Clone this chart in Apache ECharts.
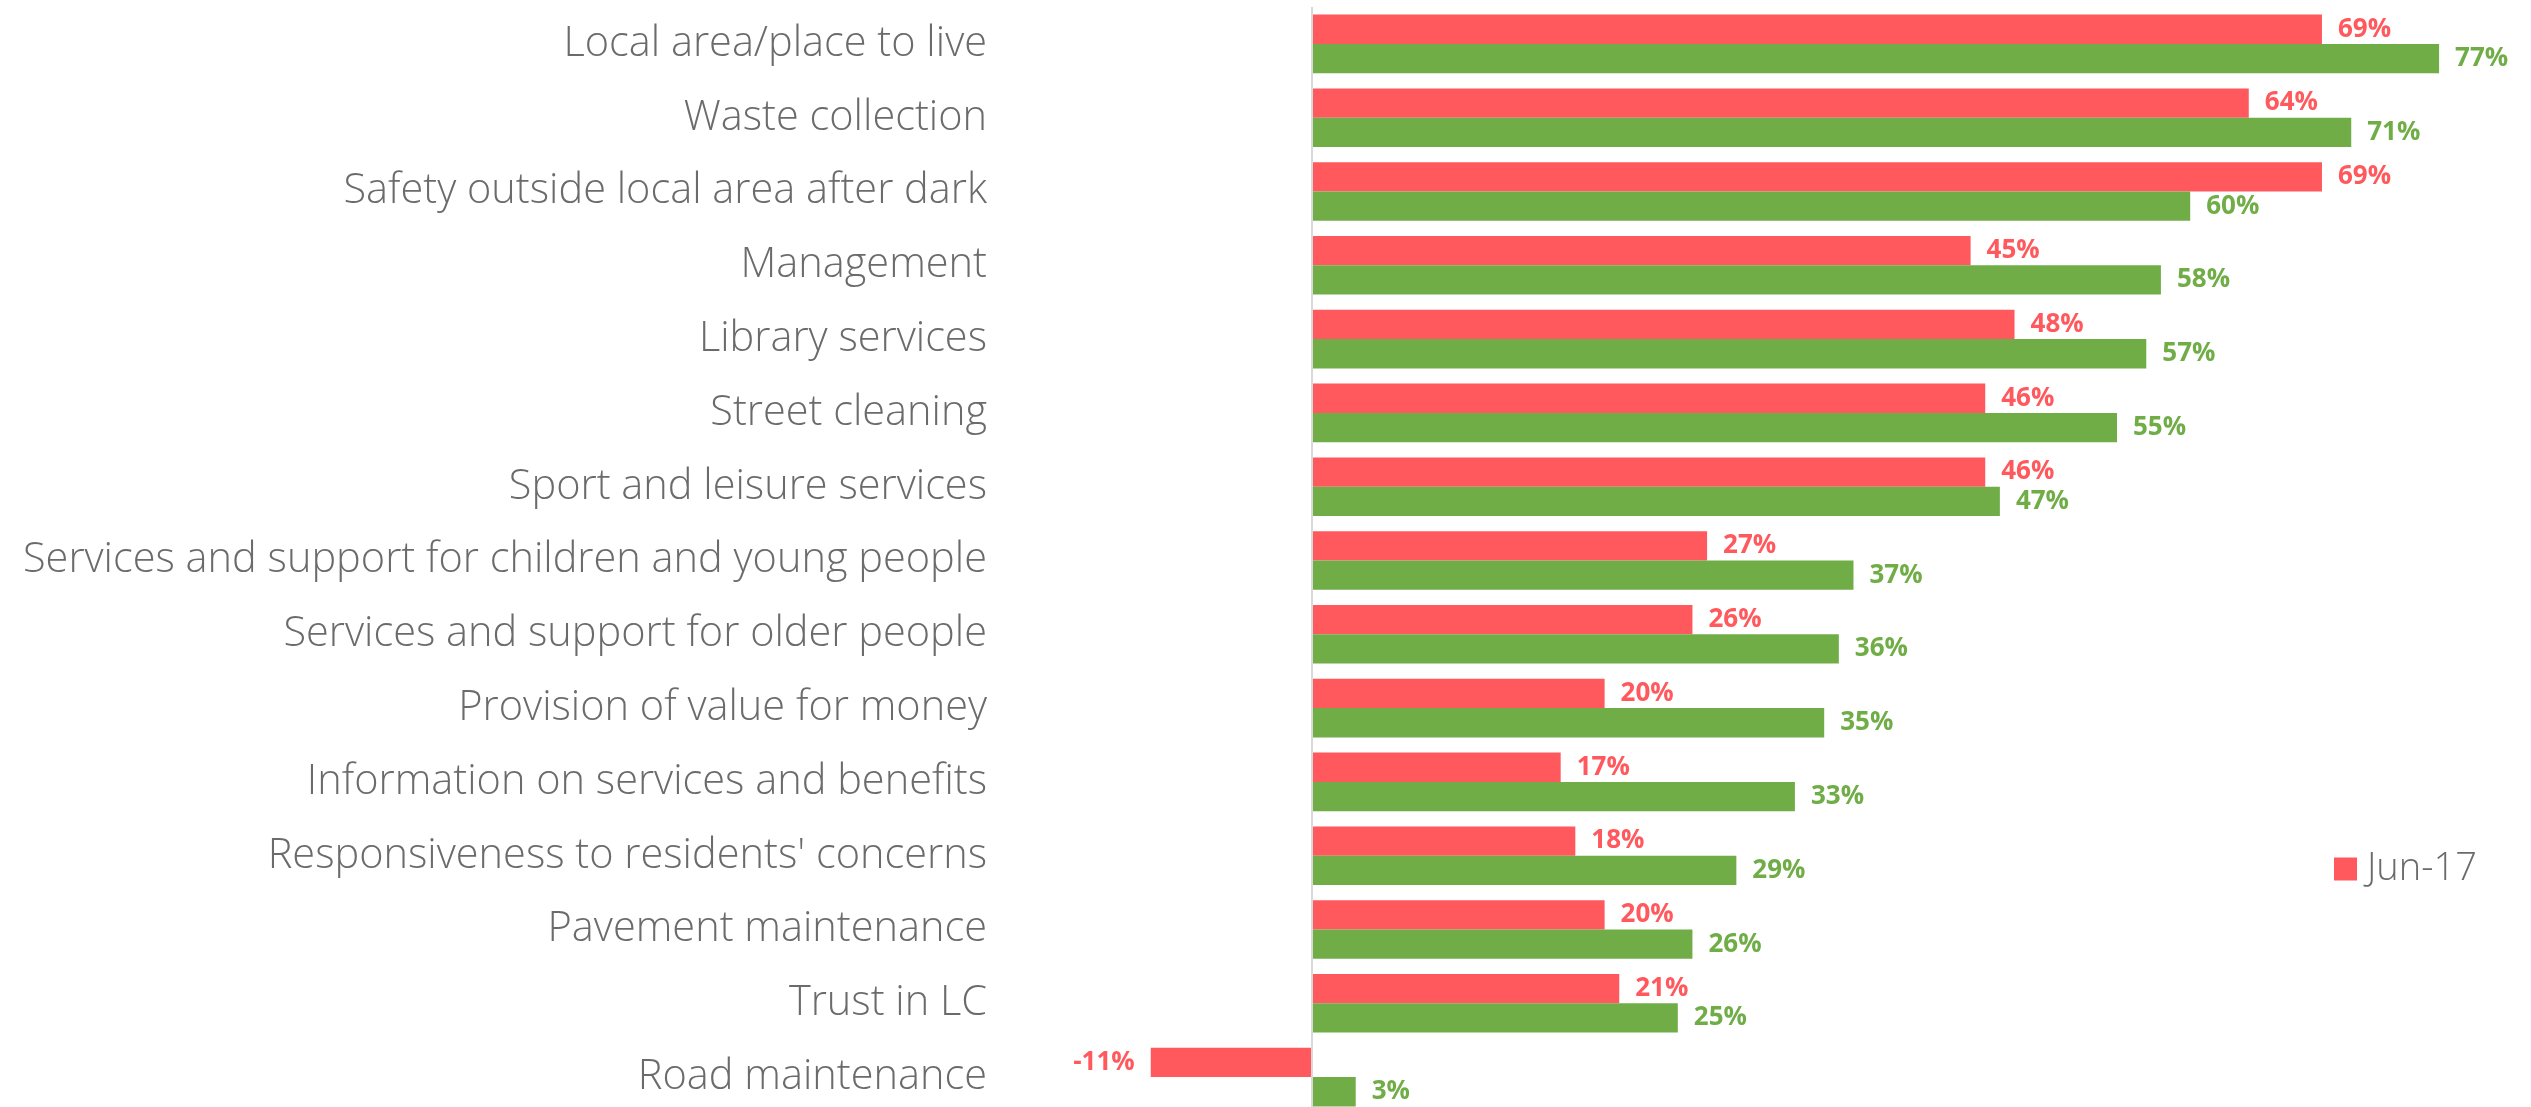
<!DOCTYPE html>
<html>
<head>
<meta charset="utf-8">
<script src="https://cdn.jsdelivr.net/npm/echarts@6/dist/echarts.min.js"></script>
<style>
html,body{margin:0;padding:0;background:#fff;overflow:hidden;width:2531px;height:1107px;}
#chart{width:2531px;height:1114px;}
</style>
</head>
<body>
<div id="chart"></div>
<script>
const categories = [
  "Local area/place to live",
  "Waste collection",
  "Safety outside local area after dark",
  "Management",
  "Library services",
  "Street cleaning",
  "Sport and leisure services",
  "Services and support for children and young people",
  "Services and support for older people",
  "Provision of value for money",
  "Information on services and benefits",
  "Responsiveness to residents' concerns",
  "Pavement maintenance",
  "Trust in LC",
  "Road maintenance"
];
const jun17 = [69, 64, 69, 45, 48, 46, 46, 27, 26, 20, 17, 18, 20, 21, -11];
const second = [77, 71, 60, 58, 57, 55, 47, 37, 36, 35, 33, 29, 26, 25, 3];
const seriesNames = ["Jun-17", "Series 2"];

const RED = "#FF585D";
const GREEN = "#70AD47";
const GREY = "#6b6b6b";
const FONT = "'Open Sans', 'Noto Sans', sans-serif";

function toData(arr) {
  return arr.map(v => ({
    value: v,
    label: { position: v < 0 ? "left" : "right" }
  }));
}

const chart = echarts.init(document.getElementById("chart"), null, { renderer: "canvas" });
chart.setOption({
  animation: false,
  backgroundColor: "#ffffff",
  grid: { left: 1019, width: 1464, top: 7, bottom: 0, containLabel: false },
  legend: {
    data: [seriesNames[0]],
    left: 2334,
    top: 850,
    padding: 0,
    itemWidth: 23,
    itemHeight: 23,
    icon: "rect",
    textStyle: { color: GREY, fontFamily: FONT, fontSize: 38, fontWeight: 300, padding: [0, 0, 0, 5] }
  },
  xAxis: {
    type: "value",
    min: -20,
    max: 80,
    interval: 10,
    axisLabel: { show: false },
    axisLine: { show: false },
    axisTick: { show: false },
    splitLine: { show: false }
  },
  yAxis: {
    type: "category",
    data: categories,
    inverse: true,
    position: "left",
    axisLine: { show: false, onZero: false },
    axisTick: { show: false },
    axisLabel: {
      margin: 32,
      color: GREY,
      fontFamily: FONT,
      fontSize: 41.5,
      fontWeight: 300,
      padding: [5, 0, 0, 0]
    }
  },
  series: [
    {
      name: seriesNames[0],
      type: "bar",
      data: toData(jun17),
      barGap: "0%",
      barCategoryGap: "20.6%",
      itemStyle: { color: RED },
      label: {
        show: true,
        formatter: "{c}%",
        distance: 16,
        color: RED,
        fontFamily: FONT,
        fontWeight: "bold",
        fontSize: 26
      },
      markLine: {
        silent: true,
        symbol: "none",
        label: { show: false },
        lineStyle: { color: "#d9d9d9", width: 2, type: "solid" },
        data: [{ xAxis: 0 }]
      }
    },
    {
      name: seriesNames[1],
      type: "bar",
      data: toData(second),
      barGap: "0%",
      barCategoryGap: "20.6%",
      itemStyle: { color: GREEN },
      label: {
        show: true,
        formatter: "{c}%",
        distance: 16,
        color: GREEN,
        fontFamily: FONT,
        fontWeight: "bold",
        fontSize: 26
      }
    }
  ]
});
</script>
</body>
</html>
